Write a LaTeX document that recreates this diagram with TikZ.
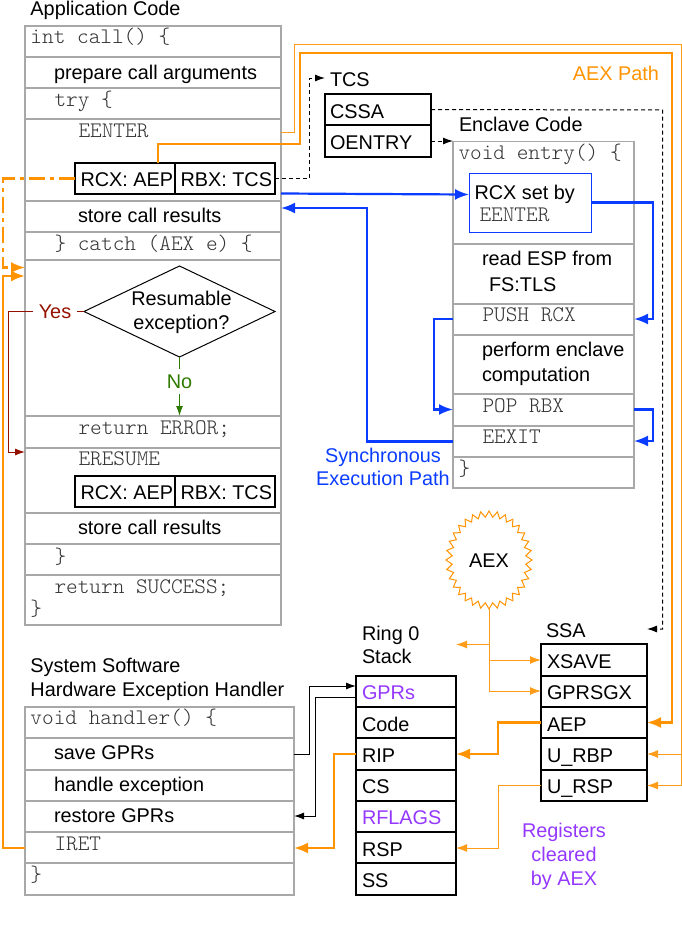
\documentclass[tikz,border=0pt]{standalone}
\usepackage{fontspec}
\setmainfont{Liberation Sans}
\newfontfamily\codefont{Latin Modern Mono Light}
\usetikzlibrary{shapes.geometric,arrows.meta,calc}
\definecolor{aexor}{HTML}{FF9300}
\definecolor{aexthin}{HTML}{FF9D1A}
\definecolor{syncblue}{HTML}{0A3CFF}
\definecolor{regpurple}{HTML}{9437FF}
\definecolor{yesred}{HTML}{941100}
\definecolor{nogreen}{HTML}{2F7A00}
\definecolor{rowgray}{HTML}{A8A8A8}
\definecolor{codegray}{HTML}{333333}
\tikzset{
  x=1pt,y=-1pt,
  every node/.style={inner sep=0pt,outer sep=0pt},
  boxbase/.style={rectangle,anchor=north west},
  coderow/.style={boxbase,draw=rowgray,line width=1.3pt},
  regrow/.style={boxbase,draw=black,line width=1.2pt},
  sanstxt/.style={anchor=base west,font=\fontsize{19.85}{22}\selectfont},
  monotxt/.style={anchor=base west,yshift=-0.7pt,text=codegray,font=\fontsize{22.2}{24}\selectfont\codefont},
  head/.style={-{Latex[length=14pt,width=11pt]}},
  headthin/.style={-{Latex[length=11pt,width=8pt]}},
  headsmall/.style={-{Latex[length=10pt,width=7pt]}},
  thickor/.style={draw=aexor,line width=2.4pt,head},
  thinor/.style={draw=aexthin,line width=1pt,headthin},
  bluepath/.style={draw=syncblue,line width=2.2pt,head},
  dashk/.style={draw=black,line width=1pt,dash pattern=on 4pt off 3pt,headsmall},
  blackk/.style={draw=black,line width=1pt,headsmall},
}
\newcommand{\brow}[6]{\node[#6,minimum width=#4pt,minimum height=#5pt] (#1) at (#2,#3) {};}
\begin{document}
\begin{tikzpicture}
\useasboundingbox (0,0) rectangle (682,930);
% Application code
\node[sanstxt] (apptitle) at (30.5,15) {Application Code};
\brow{a1}{25}{26}{256}{31}{coderow}
\brow{a2}{25}{57}{256}{31}{coderow}
\brow{a3}{25}{88}{256}{31}{coderow}
\brow{a4}{25}{119}{256}{82}{coderow}
\brow{a5}{25}{201}{256}{31}{coderow}
\brow{a6}{25}{232}{256}{28}{coderow}
\brow{a7}{25}{260}{256}{156}{coderow}
\brow{a8}{25}{416}{256}{32}{coderow}
\brow{a9}{25}{448}{256}{65}{coderow}
\brow{a10}{25}{513}{256}{31}{coderow}
\brow{a11}{25}{544}{256}{31}{coderow}
\brow{a12}{25}{575}{256}{50}{coderow}
\node[monotxt] (a1t) at (30.5,43) {int call() \{};
\node[sanstxt] (a2t) at (54,79) {prepare call arguments};
\node[monotxt] (a3t) at (54.5,106) {try \{};
\node[monotxt] (a4t) at (78.5,137) {EENTER};
\node[sanstxt] (a5t) at (78,222) {store call results};
\node[monotxt] (a6t) at (54.5,250) {\} catch (AEX e) \{};
\node[monotxt] (a8t) at (78.5,434) {return ERROR;};
\node[monotxt] (a9t) at (78.5,465) {ERESUME};
\node[sanstxt] (a10t) at (78,534) {store call results};
\node[monotxt] (a11t) at (54.5,563) {\}};
\node[monotxt] (a12t) at (54.5,593) {return SUCCESS;};
\node[monotxt] (a13t) at (30.5,615) {\}};
% register pairs
\brow{rcxa}{75}{163}{100}{31}{regrow}
\brow{rbxa}{175}{163}{100}{31}{regrow}
\node[sanstxt] (rcxat) at (80.5,186) {RCX: AEP};
\node[sanstxt] (rbxat) at (180.5,186) {RBX: TCS};
\brow{rcxb}{75}{476}{100}{31}{regrow}
\brow{rbxb}{175}{476}{100}{31}{regrow}
\node[sanstxt] (rcxbt) at (80.5,499) {RCX: AEP};
\node[sanstxt] (rbxbt) at (180.5,499) {RBX: TCS};
% decision
\node[diamond,draw=black,line width=1pt,minimum width=191pt,minimum height=91pt,aspect=2.1] (dec) at (179.5,311.5) {};
\node[align=center,font=\fontsize{19.85}{24}\selectfont] (dect) at (181.5,312.5) {Resumable\\exception?};
\node[text=yesred,font=\fontsize{19.85}{22}\selectfont,inner xsep=6pt] (yes) at (55,311.5) {Yes};
\node[text=nogreen,font=\fontsize{19.85}{22}\selectfont,inner ysep=6pt] (no) at (179.5,381.5) {No};
\coordinate (yesturn) at (8.5,311.5);
\draw[draw=yesred,line width=1pt] (dec.west) -- (yes.east);
\draw[draw=yesred,line width=1pt,headsmall] (yes.west) -- (yesturn) |- (a9.west |- 0,452);
\draw[draw=nogreen,line width=1pt] (dec.south) -- (no.north);
\draw[draw=nogreen,line width=1.2pt,headsmall] (no.south) -- (a8.north -| no.south);
% TCS
\node[sanstxt] (tcst) at (330,86) {TCS};
\brow{cssa}{325}{94}{106}{31}{regrow}
\brow{oentry}{325}{125}{106}{32}{regrow}
\node[sanstxt] (cssat) at (330,118) {CSSA};
\node[sanstxt] (oentryt) at (330,149) {OENTRY};
% Enclave
\node[sanstxt] (enctitle) at (459,131) {Enclave Code};
\brow{e1}{453}{141.5}{181}{102.5}{coderow}
\brow{e2}{453}{244}{181}{60}{coderow}
\brow{e3}{453}{304}{181}{31}{coderow}
\brow{e4}{453}{335}{181}{59}{coderow}
\brow{e5}{453}{394}{181}{32}{coderow}
\brow{e6}{453}{426}{181}{31}{coderow}
\brow{e7}{453}{457}{181}{31}{coderow}
\node[monotxt] (e1t) at (458.5,159) {void entry() \{};
\node[boxbase,draw=syncblue,line width=1pt,minimum width=122pt,minimum height=59pt] (rcxset) at (469,173) {};
\node[sanstxt] (rcxsett) at (474.5,199) {RCX set by};
\node[monotxt] (rcxsetm) at (479.5,221) {EENTER};
\node[sanstxt] (e2a) at (482,265) {read ESP from};
\node[sanstxt] (e2b) at (489,291) {FS:TLS};
\node[monotxt] (e3t) at (482.5,321) {PUSH RCX};
\node[sanstxt] (e4a) at (482,356) {perform enclave};
\node[sanstxt] (e4b) at (482,381) {computation};
\node[monotxt] (e5t) at (482.5,412) {POP RBX};
\node[monotxt] (e6t) at (482.5,443) {EEXIT};
\node[monotxt] (e7t) at (458.5,475) {\}};
\node[align=center,text=syncblue,font=\fontsize{19.85}{23}\selectfont] (synct) at (383,466.5) {Synchronous\\Execution Path};
\node[text=aexor,font=\fontsize{19.85}{22}\selectfont] (aexpath) at (616,73) {AEX Path};
% starburst
\node[font=\fontsize{19.85}{22}\selectfont] (aex) at (489,561) {AEX};
\draw[draw=aexor,line width=1pt] plot[samples=65,domain=0:360] ({489+(43-6*mod(round(\x/5.625),2))*cos(\x)},{560+(49-6*mod(round(\x/5.625),2))*sin(\x+0)}) -- cycle;
\coordinate (burstb) at (489,609);
% SSA
\node[sanstxt] (ssat) at (546,637) {SSA};
\brow{s1}{541}{644}{106}{32}{regrow}
\brow{s2}{541}{676}{106}{31}{regrow}
\brow{s3}{541}{707}{106}{31}{regrow}
\brow{s4}{541}{738}{106}{32}{regrow}
\brow{s5}{541}{770}{106}{31}{regrow}
\node[sanstxt] (s1t) at (547,668) {XSAVE};
\node[sanstxt] (s2t) at (547,699) {GPRSGX};
\node[sanstxt] (s3t) at (547,731) {AEP};
\node[sanstxt] (s4t) at (547,762) {U\_RBP};
\node[sanstxt] (s5t) at (547,793) {U\_RSP};
% Ring 0
\node[sanstxt] (r0a) at (362,640) {Ring 0};
\node[sanstxt] (r0b) at (362,663) {Stack};
\brow{k1}{356}{676}{100}{31}{regrow}
\brow{k2}{356}{707}{100}{31}{regrow}
\brow{k3}{356}{738}{100}{32}{regrow}
\brow{k4}{356}{770}{100}{31}{regrow}
\brow{k5}{356}{801}{100}{31}{regrow}
\brow{k6}{356}{832}{100}{31}{regrow}
\brow{k7}{356}{863}{100}{32}{regrow}
\node[sanstxt,text=regpurple] (k1t) at (362,699) {GPRs};
\node[sanstxt] (k2t) at (362,731) {Code};
\node[sanstxt] (k3t) at (362,762) {RIP};
\node[sanstxt] (k4t) at (362,793) {CS};
\node[sanstxt,text=regpurple] (k5t) at (362,824) {RFLAGS};
\node[sanstxt] (k6t) at (362,856) {RSP};
\node[sanstxt] (k7t) at (362,887) {SS};
\node[align=center,text=regpurple,font=\fontsize{19.85}{24}\selectfont] (regs) at (564,856) {Registers\\cleared\\by AEX};
% Handler
\node[sanstxt] (ha) at (30.5,672) {System Software};
\node[sanstxt] (hb) at (30.5,696) {Hardware Exception Handler};
\brow{h1}{25}{707}{269}{31}{coderow}
\brow{h2}{25}{738}{269}{32}{coderow}
\brow{h3}{25}{770}{269}{31}{coderow}
\brow{h4}{25}{801}{269}{31}{coderow}
\brow{h5}{25}{832}{269}{31}{coderow}
\brow{h6}{25}{863}{269}{32}{coderow}
\node[monotxt] (h1t) at (30.5,724) {void handler() \{};
\node[sanstxt] (h2t) at (54,759) {save GPRs};
\node[sanstxt] (h3t) at (54,791) {handle exception};
\node[sanstxt] (h4t) at (54,822) {restore GPRs};
\node[monotxt] (h5t) at (54.5,850) {IRET};
\node[monotxt] (h6t) at (30.5,881) {\}};
% Connectors: dashed
\draw[dashk] (rbxa.east) -- (309.5,178.5) |- (cssa.west |- 0,78);
\draw[dashk] (cssa.east) -- (662.5,110) |- (s1.east |- 0,629);
\draw[dashk] (oentry.east) -- (e1.west |- oentry.east);
% Connectors: orange
\draw[thinor,-] (a4.east |- 0,132) -| (294,44) -| (681,754);
\draw[thinor] (681,754) -- (s4.east |- 0,754);
\draw[thinor] (681,754) |- (s5.east);
\draw[thickor] (158,163) |- (300,144) |- (672,53) |- (s3.east);
\draw[draw=aexor,line width=2.2pt,dash pattern=on 16pt off 5pt on 4pt off 5pt,head] (rcxa.west) -- (3,178.5) |- (a7.west |- 0,267.5);
\draw[thickor] (h5.west |- 0,848) -- (3,848) |- (a7.west |- 0,276);
\draw[thinor,-] (burstb) -- (489,691);
\draw[thinor] (489,691) -- (s2.west |- 0,691);
\draw[thinor] (489,660) -- (s1.west |- 0,660);
\draw[thinor] (489,644.5) -- (k1.east |- 0,644.5);
\draw[thickor] (s3.west) -| (498,754) -- (k3.east);
\draw[thinor] (s5.west) -| (498.5,848) -- (k6.east |- 0,848);
\draw[thickor] (k3.west) -| (334,848) -- (h5.east |- 0,848);
% black
\draw[blackk] (h2.east |- 0,754) -| (309,686) -- (k1.west |- 0,686);
\draw[blackk] (k1.west |- 0,697) -| (315.5,816) -- (h4.east |- 0,816);
% blue
\draw[bluepath] (a5.north east |- 0,193.5) -- (rcxset.west |- 0,194.5);
\draw[bluepath] (e6.west) -| (367,208) -- (a5.east |- 0,208);
\draw[bluepath] (rcxset.east) -| (653,319) -- (e3.east |- 0,319);
\draw[bluepath] (e3.west |- 0,319) -| (434,409.5) -- (e5.west |- 0,409.5);
\draw[bluepath] (e5.east |- 0,409.5) -| (653,441) -- (e6.east |- 0,441);
\end{tikzpicture}
\end{document}
